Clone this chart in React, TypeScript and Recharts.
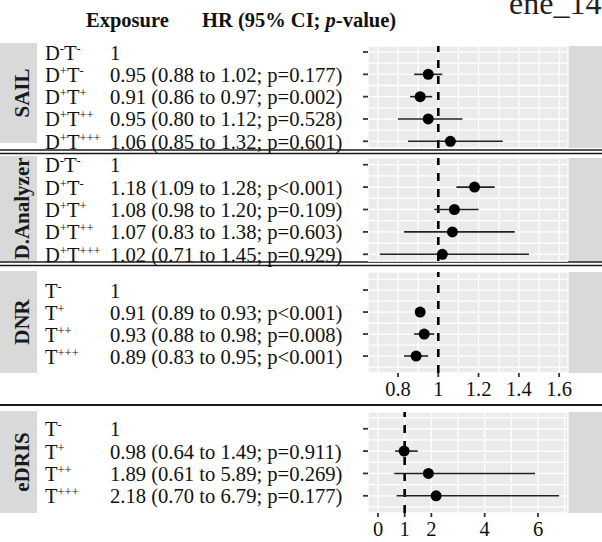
import React from 'react';
import { ScatterChart, Scatter, XAxis, YAxis, CartesianGrid, ReferenceLine, ErrorBar } from 'recharts';

// ---------- data ----------
const sailExposure = ['D-T-', 'D+T-', 'D+T+', 'D+T++', 'D+T+++'];
const sailText = ['1', '0.95 (0.88 to 1.02; p=0.177)', '0.91 (0.86 to 0.97; p=0.002)', '0.95 (0.80 to 1.12; p=0.528)', '1.06 (0.85 to 1.32; p=0.601)'];
const sailHR = [null, 0.95, 0.91, 0.95, 1.06];
const sailLow = [null, 0.88, 0.86, 0.80, 0.85];
const sailHigh = [null, 1.02, 0.97, 1.12, 1.32];

const daExposure = ['D-T-', 'D+T-', 'D+T+', 'D+T++', 'D+T+++'];
const daText = ['1', '1.18 (1.09 to 1.28; p<0.001)', '1.08 (0.98 to 1.20; p=0.109)', '1.07 (0.83 to 1.38; p=0.603)', '1.02 (0.71 to 1.45; p=0.929)'];
const daHR = [null, 1.18, 1.08, 1.07, 1.02];
const daLow = [null, 1.09, 0.98, 0.83, 0.71];
const daHigh = [null, 1.28, 1.20, 1.38, 1.45];

const dnrExposure = ['T-', 'T+', 'T++', 'T+++'];
const dnrText = ['1', '0.91 (0.89 to 0.93; p<0.001)', '0.93 (0.88 to 0.98; p=0.008)', '0.89 (0.83 to 0.95; p<0.001)'];
const dnrHR = [null, 0.91, 0.93, 0.89];
const dnrLow = [null, 0.89, 0.88, 0.83];
const dnrHigh = [null, 0.93, 0.98, 0.95];

const edrisExposure = ['T-', 'T+', 'T++', 'T+++'];
const edrisText = ['1', '0.98 (0.64 to 1.49; p=0.911)', '1.89 (0.61 to 5.89; p=0.269)', '2.18 (0.70 to 6.79; p=0.177)'];
const edrisHR = [null, 0.98, 1.89, 2.18];
const edrisLow = [null, 0.64, 0.61, 0.70];
const edrisHigh = [null, 1.49, 5.89, 6.79];

const topGridTicks = [0.7, 0.8, 0.9, 1.0, 1.1, 1.2, 1.3, 1.4, 1.5, 1.6];
const topLabelTicks = [0.8, 1, 1.2, 1.4, 1.6];
const edrisGridTicks = [0, 1, 2, 3, 4, 5, 6, 7];
const edrisLabelTicks = [0, 1, 2, 4, 6];

const FONT = '"Liberation Serif", "Times New Roman", serif';

function parseExposure(s: string) {
  const parts: [string, string][] = [];
  const re = /([A-Z])([+-]+)/g;
  let m;
  while ((m = re.exec(s)) !== null) parts.push([m[1], m[2]]);
  return parts;
}

function ExposureText({ x, y, label }: any) {
  const parts = parseExposure(label);
  const kids: any[] = [];
  parts.forEach(([b, s], i) => {
    kids.push(<tspan key={'b' + i} fontSize={20.5} dy={i === 0 ? 0 : 7}>{b}</tspan>);
    kids.push(<tspan key={'s' + i} fontSize={12.5} dy={-7}>{s}</tspan>);
  });
  return <text x={x} y={y} fontFamily={FONT} fill="#111">{kids}</text>;
}

function Panel({ top, plotH, axisH, yDomain, yTicks, xDomain, gridTicks, labelTicks, exposures, texts, hr, low, high }: any) {
  const rows = exposures
    .map((e: string, i: number) => ({ row: i, hr: hr[i], err: hr[i] == null ? null : [hr[i] - low[i], high[i] - hr[i]] }))
    .filter((r: any) => r.hr != null);

  const YTick = (p: any) => {
    const v = p.payload.value;
    const i = Math.round(v);
    if (Math.abs(v - i) > 1e-6) return <g />;
    return (
      <g>
        <line x1={363} x2={368} y1={p.y} y2={p.y} stroke="#333" strokeWidth={1.8} />
        <ExposureText x={45} y={p.y + 7.5} label={exposures[i]} />
        <text x={110} y={p.y + 7.5} fontSize={20.6} fontFamily={FONT} fill="#111">{texts[i]}</text>
      </g>
    );
  };

  const XTick = (p: any) => {
    const v = p.payload.value;
    if (!axisH || !labelTicks.some((t: number) => Math.abs(t - v) < 1e-6)) return <g />;
    return (
      <g>
        <line x1={p.x} x2={p.x} y1={plotH} y2={plotH + 4} stroke="#333" strokeWidth={1.8} />
        <text x={p.x} y={plotH + 23} textAnchor="middle" fontSize={20.5} fontFamily={FONT} fill="#111">{String(Math.round(v * 10) / 10)}</text>
      </g>
    );
  };

  return (
    <div style={{ position: 'absolute', left: 0, top, width: 602, height: plotH + axisH }}>
      <ScatterChart width={602} height={plotH + axisH} margin={{ top: 0, right: 34, bottom: 0, left: 0 }}>
        <CartesianGrid fill="#EBEBEB" stroke="#FFFFFF" strokeWidth={1.3} />
        <XAxis type="number" dataKey="hr" domain={xDomain} allowDataOverflow ticks={gridTicks} interval={0}
          height={axisH} axisLine={false} tickLine={false} tick={XTick} />
        <YAxis type="number" dataKey="row" domain={yDomain} allowDataOverflow reversed ticks={yTicks} interval={0}
          width={368} axisLine={false} tickLine={false} tick={YTick} />
        <ReferenceLine x={1} stroke="#000" strokeWidth={2.6} strokeDasharray="8 8" />
        <Scatter data={rows} isAnimationActive={false}
          shape={(p: any) => <circle cx={p.cx} cy={p.cy} r={5.5} fill="#000" />}>
          <ErrorBar dataKey="err" direction="x" width={0} stroke="#222" strokeWidth={1.6} isAnimationActive={false} />
        </Scatter>
      </ScatterChart>
    </div>
  );
}

const halfTicksA = [0, 0.5, 1, 1.5, 2, 2.5, 3, 3.5, 4];
const halfTicksB = [-0.5, 0, 0.5, 1, 1.5, 2, 2.5, 3, 3.5];

export default function App() {
  const strips = [
    { label: 'SAIL', y0: 43, y1: 143 },
    { label: 'D.Analyzer', y0: 156, y1: 261 },
    { label: 'DNR', y0: 271, y1: 373 },
    { label: 'eDRIS', y0: 411, y1: 513 },
  ];
  const panels = [
    { y0: 46, y1: 148 }, { y0: 158, y1: 261 }, { y0: 272, y1: 373 }, { y0: 412, y1: 513 },
  ];
  return (
    <div style={{ position: 'absolute', left: 0, top: 0, width: 602, height: 542, background: '#fff', overflow: 'hidden' }}>
      <style>{`.recharts-surface{overflow:visible}.recharts-wrapper{overflow:visible}`}</style>
      <svg width={602} height={542} style={{ position: 'absolute', left: 0, top: 0 }}>
        <text x={509} y={14} fontSize={32} fontFamily={FONT} fill="#222">ene_14</text>
        <text x={86} y={27} fontSize={20.5} fontWeight="bold" fontFamily={FONT} fill="#111">Exposure</text>
        <text x={202} y={27} fontSize={20.5} fontWeight="bold" fontFamily={FONT} fill="#111">
          HR (95% CI; <tspan fontStyle="italic">p</tspan>-value)
        </text>
        {strips.map((s, i) => {
          const cx = 22, cy = (s.y0 + s.y1) / 2;
          return (
            <g key={i}>
              <rect x={0} y={s.y0} width={37} height={s.y1 - s.y0} fill="#D9D9D9" />
              <text x={cx} y={cy} dy="0.35em" textAnchor="middle" transform={`rotate(-90 ${cx} ${cy})`}
                fontSize={21} fontWeight="bold" fontFamily={FONT} fill="#1a1a1a">{s.label}</text>
            </g>
          );
        })}
        {panels.map((p, i) => (
          <rect key={i} x={568} y={p.y0} width={34} height={p.y1 - p.y0} fill="#D9D9D9" />
        ))}
        <line x1={0} x2={602} y1={150} y2={150} stroke="#1a1a1a" strokeWidth={1.5} />
        <line x1={0} x2={602} y1={153.5} y2={153.5} stroke="#1a1a1a" strokeWidth={1.5} />
        <line x1={0} x2={602} y1={262} y2={262} stroke="#1a1a1a" strokeWidth={1.5} />
        <line x1={0} x2={602} y1={265.5} y2={265.5} stroke="#1a1a1a" strokeWidth={1.5} />
        <line x1={0} x2={602} y1={405} y2={405} stroke="#1a1a1a" strokeWidth={2} />
      </svg>
      <Panel top={46} plotH={102} axisH={0} yDomain={[-0.27, 4.3]} yTicks={halfTicksA}
        xDomain={[0.651, 1.644]} gridTicks={topGridTicks} labelTicks={topLabelTicks}
        exposures={sailExposure} texts={sailText} hr={sailHR} low={sailLow} high={sailHigh} />
      <Panel top={158} plotH={103} axisH={0} yDomain={[-0.3, 4.3]} yTicks={halfTicksA}
        xDomain={[0.651, 1.644]} gridTicks={topGridTicks} labelTicks={topLabelTicks}
        exposures={daExposure} texts={daText} hr={daHR} low={daLow} high={daHigh} />
      <Panel top={272} plotH={101} axisH={30} yDomain={[-0.82, 3.77]} yTicks={halfTicksB}
        xDomain={[0.651, 1.644]} gridTicks={topGridTicks} labelTicks={topLabelTicks}
        exposures={dnrExposure} texts={dnrText} hr={dnrHR} low={dnrLow} high={dnrHigh} />
      <Panel top={412} plotH={101} axisH={30} yDomain={[-0.75, 3.77]} yTicks={halfTicksB}
        xDomain={[-0.375, 7.125]} gridTicks={edrisGridTicks} labelTicks={edrisLabelTicks}
        exposures={edrisExposure} texts={edrisText} hr={edrisHR} low={edrisLow} high={edrisHigh} />
    </div>
  );
}
